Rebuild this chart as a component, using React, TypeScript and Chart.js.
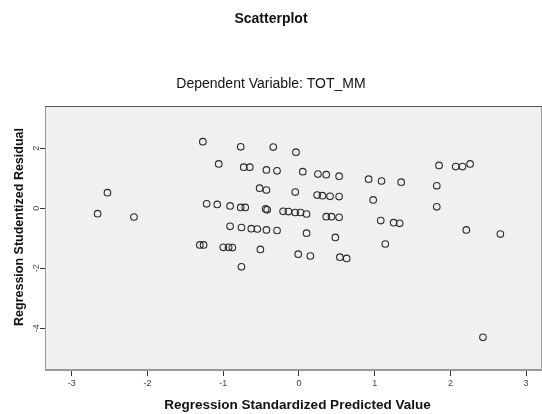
import React, { useEffect, useRef } from "react";
import { Chart, registerables } from "chart.js";

Chart.register(...registerables);

const chartTitle = "Scatterplot";
const chartSubtitle = "Dependent Variable: TOT_MM";
const xAxisTitle = "Regression Standardized Predicted Value";
const yAxisTitle = "Regression Studentized Residual";

const xTickValues = [-3, -2, -1, 0, 1, 2, 3];
const yTickValues = [-4, -2, 0, 2];

const predicted = [
  -2.66, -2.53, -2.18, -1.27, -0.77, -0.34, -0.04, -1.06, -0.73, -0.65,
  -0.43, -0.29, 0.05, 0.25, 0.36, 0.53, -0.52, -0.43, -0.05, 0.24,
  0.31, 0.41, 0.53, -1.22, -1.08, -0.91, -0.77, -0.71, -0.44, -0.42,
  -0.21, -0.14, -0.05, 0.02, 0.10, 0.36, 0.43, 0.53, 0.92, 1.09,
  1.35, 1.85, 2.07, 2.16, 2.26, 1.82, 0.98, 1.82, 1.08, 1.25,
  1.33, 0.48, 1.14, 2.21, 2.66, 0.10, -0.91, -0.76, -0.63, -0.55,
  -0.43, -0.29, -1.31, -1.26, -1.00, -0.93, -0.88, -0.51, -0.01, 0.15,
  0.54, 0.63, -0.76, 2.43,
];

const residual = [
  -0.18, 0.52, -0.29, 2.22, 2.05, 2.04, 1.87, 1.48, 1.37, 1.37,
  1.28, 1.25, 1.22, 1.14, 1.12, 1.07, 0.67, 0.61, 0.54, 0.44,
  0.42, 0.40, 0.39, 0.15, 0.13, 0.08, 0.03, 0.03, -0.02, -0.05,
  -0.10, -0.11, -0.14, -0.14, -0.19, -0.28, -0.28, -0.30, 0.97, 0.91,
  0.87, 1.43, 1.39, 1.39, 1.48, 0.75, 0.28, 0.05, -0.41, -0.48,
  -0.50, -0.97, -1.19, -0.72, -0.86, -0.83, -0.60, -0.64, -0.68, -0.69,
  -0.72, -0.74, -1.22, -1.22, -1.30, -1.30, -1.31, -1.37, -1.53, -1.59,
  -1.63, -1.67, -1.95, -4.30,
];

const FONT = "'Liberation Sans', Arial, sans-serif";

const framePlugin = {
  id: "spssFrame",
  beforeDraw(chart: any) {
    const { ctx, chartArea: a } = chart;
    ctx.save();
    ctx.fillStyle = "#f0f0f0";
    ctx.fillRect(a.left, a.top, a.right - a.left, a.bottom - a.top);
    ctx.restore();
  },
  afterDraw(chart: any) {
    const { ctx, chartArea: a, scales } = chart;
    ctx.save();
    ctx.strokeStyle = "#9a9a9a";
    ctx.lineWidth = 1;
    ctx.strokeRect(a.left + 0.5, a.top + 0.5, a.right - a.left - 1, a.bottom - a.top - 1);
    ctx.strokeStyle = "#555";
    ctx.beginPath();
    ctx.moveTo(a.left, a.top + 0.5);
    ctx.lineTo(a.right, a.top + 0.5);
    ctx.stroke();

    // rotated y tick labels
    const y = scales.y;
    ctx.fillStyle = "#444";
    ctx.font = `9px ${FONT}`;
    ctx.textAlign = "center";
    ctx.textBaseline = "middle";
    y.ticks.forEach((t: any) => {
      const py = y.getPixelForValue(t.value);
      ctx.save();
      ctx.translate(a.left - 8, py);
      ctx.rotate(-Math.PI / 2);
      ctx.fillText(String(t.value), 0, 0);
      ctx.restore();
    });

    // axis titles
    ctx.fillStyle = "#111";
    ctx.textAlign = "center";
    ctx.textBaseline = "middle";
    ctx.font = `bold 13.5px ${FONT}`;
    ctx.fillText(xAxisTitle, (a.left + a.right) / 2 + 4, a.bottom + 35);
    ctx.font = `bold 12.5px ${FONT}`;
    ctx.save();
    ctx.translate(20, (a.top + a.bottom) / 2 - 11);
    ctx.rotate(-Math.PI / 2);
    ctx.fillText(yAxisTitle, 0, 0);
    ctx.restore();
    ctx.restore();
  },
};

export default function App() {
  const ref = useRef<HTMLCanvasElement | null>(null);

  useEffect(() => {
    if (!ref.current) return;
    const points = predicted.map((x, i) => ({ x, y: residual[i] }));
    const chart = new Chart(ref.current, {
      type: "scatter",
      data: {
        datasets: [
          {
            data: points,
            pointStyle: "circle",
            pointRadius: 3.3,
            pointBorderWidth: 1.1,
            borderColor: "#2a2a2a",
            backgroundColor: "rgba(0,0,0,0)",
            pointHoverRadius: 3.3,
          },
        ],
      },
      options: {
        responsive: false,
        animation: false,
        layout: { autoPadding: false, padding: { left: 0, right: 0, top: 0, bottom: 0 } },
        plugins: {
          legend: { display: false },
          tooltip: { enabled: false },
          title: {
            display: true,
            text: chartTitle,
            color: "#111",
            font: { family: FONT, size: 14, weight: "bold" },
            padding: { top: 11, bottom: 0 },
          },
          subtitle: {
            display: true,
            text: chartSubtitle,
            color: "#111",
            font: { family: FONT, size: 14, weight: "normal" },
            padding: { top: 47.8, bottom: 13.6 },
          },
        },
        scales: {
          x: {
            type: "linear",
            min: -3.355,
            max: 3.21,
            afterFit: (s: any) => {
              s.height = 44;
            },
            afterBuildTicks: (s: any) => {
              s.ticks = xTickValues.map((v) => ({ value: v }));
            },
            ticks: {
              color: "#444",
              font: { family: FONT, size: 9 },
              padding: 2,
            },
            grid: {
              drawOnChartArea: false,
              drawTicks: true,
              tickLength: 6,
              color: "#333",
            },
            border: { display: true, color: "#9a9a9a" },
          },
          y: {
            type: "linear",
            min: -5.39,
            max: 3.41,
            afterFit: (s: any) => {
              s.width = 45;
            },
            afterBuildTicks: (s: any) => {
              s.ticks = yTickValues.map((v) => ({ value: v }));
            },
            ticks: {
              color: "rgba(0,0,0,0)",
              font: { family: FONT, size: 9 },
            },
            grid: {
              drawOnChartArea: false,
              drawTicks: true,
              tickLength: 5,
              color: "#333",
            },
            border: { display: true, color: "#9a9a9a" },
          },
        },
      },
      plugins: [framePlugin],
    });
    return () => chart.destroy();
  }, []);

  return (
    <div style={{ position: "absolute", left: 0, top: 0, width: 542, height: 414, background: "#fff" }}>
      <canvas ref={ref} width={542} height={414} style={{ display: "block" }} />
    </div>
  );
}
